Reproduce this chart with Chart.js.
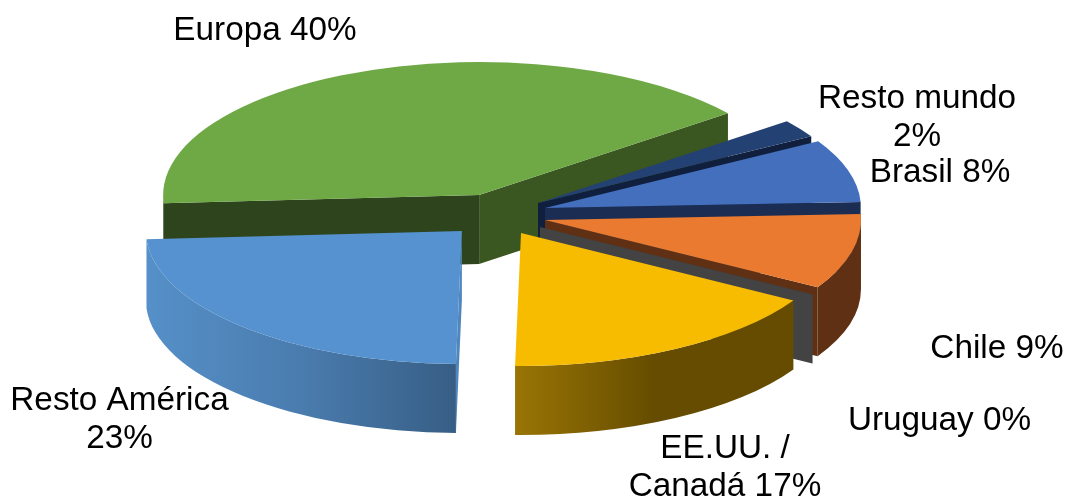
<!DOCTYPE html>
<html>
<head>
<meta charset="utf-8">
<title>Ventas por destino</title>
<script src="https://cdn.jsdelivr.net/npm/chart.js@4/dist/chart.umd.min.js"></script>
<style>
  html, body { margin: 0; padding: 0; background: #fff; }
  #wrap { position: relative; width: 1067px; height: 499px; }
</style>
</head>
<body>
<div id="wrap"><canvas id="pie"></canvas></div>
<script>
// Data, clockwise from the left of the pie (also back-to-front paint order)
const categories = ['Europa', 'Resto mundo', 'Brasil', 'Chile', 'Uruguay', 'EE.UU. / Canadá', 'Resto América'];
const shares = [40, 2.17, 7.56, 9.08, 0.03, 16.67, 23.49];

// Top face colours
const topColors = ['#6fa945', '#234172', '#436fbd', '#e97a2f', '#434343', '#f7bc00', '#5592cf'];
// Outer wall gradient, left to right
const wallStops = [
    ['#2d441c', '#2d441c'],
    ['#14233f', '#14233f'],
    ['#1b2d52', '#1b2d52'],
    ['#5f3014', '#5f3014'],
    ['#434343', '#434343'],
    ['#9a7505', '#654c00', '#654c00'],
    ['#5590c8', '#4a7cae', '#375e85']
];
// Colour of the straight cut faces: [start edge, end edge]
const cutColors = [
    ['#2d441c', '#3a5621'],
    ['#101f3e', '#101f3e'],
    ['#1b2d52', '#1b2d52'],
    ['#5f3014', '#5f3014'],
    ['#434343', '#434343'],
    ['#654c00', '#654c00'],
    ['#4f86bd', '#375e85']
];
// Each slice is pulled apart by hand, as a fraction of the radius
const sliceShift = [
    [-0.218, -0.218], [0.018, -0.186], [0.046, -0.166], [0.046, -0.118],
    [0.026, -0.09], [-0.05, -0.066], [-0.287, -0.074]
];
const tiltX = 1.2665, tiltY = 0.533, depth = 0.2766;

// Where each label goes; wrap = characters on the first line, dy = line gap
const labelSpots = [
    { x: 265, y: 39.5 },
    { x: 917, y: 108, wrap: 11, dy: 38 },
    { x: 940, y: 182 },
    { x: 997, y: 357.5 },
    { x: 939.5, y: 430 },
    { x: 725, y: 458, wrap: 8, dy: 37.5 },
    { x: 119.5, y: 410, wrap: 13, dy: 38 }
];
const labelFont = '33.3px "Liberation Sans", Arial, sans-serif';

const pie3d = {
    id: 'pie3d',
    // replaces the flat arcs; angles and radius still come from the arc elements
    beforeDatasetsDraw(chart) {
        const ctx = chart.ctx;
        chart.getDatasetMeta(0).data.forEach((arc, i) => {
            const { x, y, startAngle: a, endAngle: b, outerRadius: r } =
                arc.getProps(['x', 'y', 'startAngle', 'endAngle', 'outerRadius'], true);
            const rx = r * tiltX, ry = r * tiltY, d = r * depth;
            const ox = x + sliceShift[i][0] * r, oy = y + sliceShift[i][1] * r;

            const cutFace = (t, color) => {
                const px = ox + rx * Math.cos(t), py = oy + ry * Math.sin(t);
                ctx.beginPath();
                ctx.moveTo(ox, oy);
                ctx.lineTo(px, py);
                ctx.lineTo(px, py + d);
                ctx.lineTo(ox, oy + d);
                ctx.closePath();
                ctx.fillStyle = color;
                ctx.fill();
            };
            if (Math.cos(a) < 0) cutFace(a, cutColors[i][0]);
            if (Math.cos(b) > 0) cutFace(b, cutColors[i][1]);

            // outer wall, only where the rim faces the viewer
            for (let k = -1; k <= 2; k++) {
                const lo = Math.max(a, k * 2 * Math.PI);
                const hi = Math.min(b, Math.PI + k * 2 * Math.PI);
                if (lo >= hi) continue;
                const x1 = ox + rx * Math.cos(hi), x2 = ox + rx * Math.cos(lo);
                const grad = ctx.createLinearGradient(x1, 0, Math.max(x2, x1 + 1), 0);
                wallStops[i].forEach((c, n, all) => grad.addColorStop(n / (all.length - 1), c));
                ctx.beginPath();
                ctx.ellipse(ox, oy, rx, ry, 0, lo, hi);
                ctx.ellipse(ox, oy + d, rx, ry, 0, hi, lo, true);
                ctx.closePath();
                ctx.fillStyle = grad;
                ctx.fill();
            }

            ctx.beginPath();
            ctx.moveTo(ox, oy);
            ctx.ellipse(ox, oy, rx, ry, 0, a, b);
            ctx.closePath();
            ctx.fillStyle = topColors[i];
            ctx.fill();
        });
        return false;
    },
    afterDraw(chart) {
        const ctx = chart.ctx;
        ctx.save();
        ctx.font = labelFont;
        ctx.fillStyle = '#000';
        ctx.textAlign = 'center';
        categories.forEach((name, i) => {
            const text = name + ' ' + Math.round(shares[i]) + '%';
            const spot = labelSpots[i];
            if (spot.wrap) {
                ctx.fillText(text.slice(0, spot.wrap).trim(), spot.x, spot.y);
                ctx.fillText(text.slice(spot.wrap).trim(), spot.x, spot.y + spot.dy);
            } else {
                ctx.fillText(text, spot.x, spot.y);
            }
        });
        ctx.restore();
    }
};

new Chart(document.getElementById('pie'), {
    type: 'pie',
    data: {
        labels: categories,
        datasets: [{
            data: shares,
            backgroundColor: topColors,
            borderWidth: 0
        }]
    },
    options: {
        responsive: true,
        maintainAspectRatio: false,
        animation: false,
        rotation: 266.5,
        plugins: {
            legend: { display: false },
            tooltip: { enabled: false }
        }
    },
    plugins: [pie3d]
});
</script>
</body>
</html>
